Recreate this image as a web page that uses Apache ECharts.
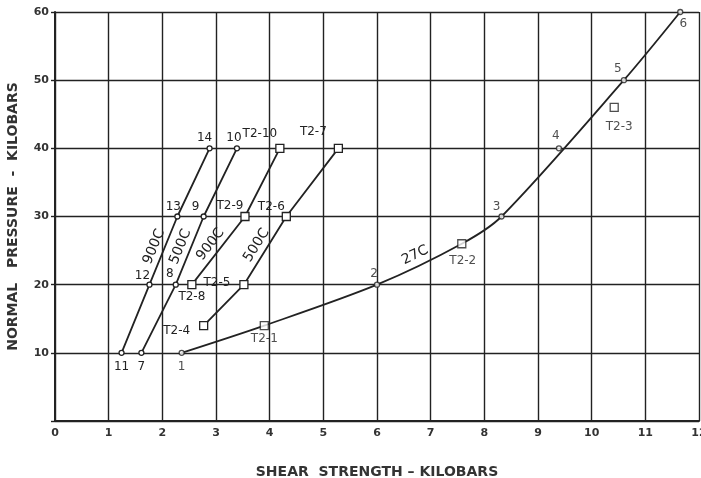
<!DOCTYPE html>
<html><head><meta charset="utf-8">
<script src="https://cdn.jsdelivr.net/npm/echarts@6/dist/echarts.min.js"></script>
<style>html,body{margin:0;padding:0;background:#fff}#c{width:701px;height:478px}</style>
</head><body><div id="c"></div>
<script>
// ---- data ----
const xTicks = [0,1,2,3,4,5,6,7,8,9,10,11,12];
const yTicks = [10,20,30,40,50,60];

const s1Names = ['11','12','13','14'];          // 900C (circles)
const s1Pts = [[1.24,10],[1.76,20],[2.28,30],[2.88,40]];
const s2Names = ['7','8','9','10'];             // 500C (circles)
const s2Pts = [[1.61,10],[2.25,20],[2.77,30],[3.39,40]];
const s3Names = ['T2-8','T2-9','T2-10'];        // 900C (squares)
const s3Pts = [[2.55,20],[3.54,30],[4.19,40]];
const s4Names = ['T2-4','T2-5','T2-6','T2-7'];  // 500C (squares)
const s4Pts = [[2.77,14],[3.52,20],[4.31,30],[5.28,40]];
const c27CircleNames = ['1','2','3','4','5','6'];   // 27C circles
const c27CirclePts = [[2.36,10],[6.0,20],[8.32,30],[9.39,40],[10.6,50],[11.65,60]];
const c27SquareNames = ['T2-1','T2-2','T2-3'];      // 27C squares
const c27SquarePts = [[3.9,14],[7.58,26],[10.42,46]];
const curveNames = ['1','T2-1','2','T2-2','3','5','6'];
const seriesTitles = ['900C','500C','900C','500C','27C'];

// ---- layout (label placement) ----
const labelOffset = {'11':[0,14],'7':[0,14],'1':[0,14],'12':[-7,-9],'8':[-6,-11],'13':[-4,-10],
  '9':[-8,-10],'14':[-5,-10],'10':[-3,-10],'T2-10':[-20,-14],'T2-7':[-25,-16],'T2-9':[-15,-11],
  'T2-6':[-15,-10],'T2-8':[0,12],'T2-5':[-27,-2],'T2-4':[-27,5],'T2-1':[0,13],'2':[-3,-11],
  'T2-2':[1,17],'3':[-5,-10],'4':[-3,-12],'T2-3':[5,19],'5':[-6,-11],'6':[3,12]};

const INK = '#222';
const lookup = {};
[[c27CircleNames,c27CirclePts],[c27SquareNames,c27SquarePts]].forEach(([n,p])=>n.forEach((k,i)=>lookup[k]=p[i]));
const curvePts = curveNames.map(n=>lookup[n]);

function items(names, pts){
  return names.map((n,i)=>({name:n, value:pts[i], label:{offset:labelOffset[n]||[0,0]}}));
}
const ptLabel = {show:true, position:'inside', formatter:'{b}', fontSize:12, color:INK,
  fontFamily:'DejaVu Sans', align:'center', verticalAlign:'middle'};
function titleLine(a, b, text){
  return {silent:true, symbol:'none', animation:false,
    lineStyle:{color:'rgba(0,0,0,0)', width:0, type:'solid'},
    label:{show:true, position:'insideMiddleTop', formatter:text, fontSize:14, color:INK,
      fontFamily:'DejaVu Sans', distance:3},
    emphasis:{disabled:true},
    data:[[{coord:a},{coord:b}]]};
}
function lineSeries(names, pts, sym, size, seg, title){
  return {type:'line', data:items(names, pts), symbol:sym, symbolSize:size, showAllSymbol:true,
    lineStyle:{color:INK, width:1.8}, itemStyle:{color:'#fff', borderColor:INK, borderWidth:1.3},
    label:ptLabel, z:3, animation:false,
    markLine:titleLine(pts[seg], pts[seg+1], title)};
}

const chart = echarts.init(document.getElementById('c'), null, {renderer:'canvas'});
chart.setOption({
  backgroundColor:'#fff',
  animation:false,
  grid:{left:55, right:2, top:12, bottom:57, containLabel:false, outerBoundsMode:'none'},
  xAxis:{type:'value', min:0, max:12, interval:1,
    name:'SHEAR  STRENGTH – KILOBARS', nameLocation:'middle', nameGap:44,
    nameTextStyle:{fontSize:14, fontWeight:'bold', color:'#333', fontFamily:'DejaVu Sans'},
    axisLine:{show:true, lineStyle:{color:INK, width:2}},
    axisTick:{show:false},
    axisLabel:{margin:7, fontSize:11, fontWeight:'bold', color:'#333', fontFamily:'DejaVu Sans',
      formatter:v=>xTicks.includes(v)?String(v):''},
    splitLine:{show:true, lineStyle:{color:INK, width:1.4}}},
  yAxis:{type:'value', min:0, max:60, interval:10,
    name:'NORMAL   PRESSURE  -  KILOBARS', nameLocation:'middle', nameGap:35, nameRotate:90,
    nameTextStyle:{fontSize:14, fontWeight:'bold', color:'#333', fontFamily:'DejaVu Sans'},
    axisLine:{show:true, lineStyle:{color:INK, width:2}},
    axisTick:{show:true, length:4, lineStyle:{color:INK, width:1.4}},
    axisLabel:{margin:6, fontSize:11, fontWeight:'bold', color:'#333', fontFamily:'DejaVu Sans',
      formatter:v=>yTicks.includes(v)?String(v):''},
    splitLine:{show:true, lineStyle:{color:INK, width:1.4}}},
  series:[
    lineSeries(s1Names, s1Pts, 'circle', 5, 1, seriesTitles[0]),
    lineSeries(s2Names, s2Pts, 'circle', 5, 1, seriesTitles[1]),
    lineSeries(s3Names, s3Pts, 'rect', 8, 0, seriesTitles[2]),
    lineSeries(s4Names, s4Pts, 'rect', 8, 1, seriesTitles[3]),
    {type:'line', data:curvePts, smooth:0.3, showSymbol:false, symbol:'none',
      lineStyle:{color:INK, width:1.8}, z:2, silent:true,
      markLine:titleLine(lookup['2'], lookup['T2-2'], seriesTitles[4])},
    {type:'scatter', data:items(c27CircleNames, c27CirclePts), symbol:'circle', symbolSize:5,
      itemStyle:{color:'#fff', borderColor:INK, borderWidth:1.3}, label:ptLabel, z:4},
    {type:'scatter', data:items(c27SquareNames, c27SquarePts), symbol:'rect', symbolSize:8,
      itemStyle:{color:'#fff', borderColor:INK, borderWidth:1.3}, label:ptLabel, z:4}
  ]
});
</script></body></html>
